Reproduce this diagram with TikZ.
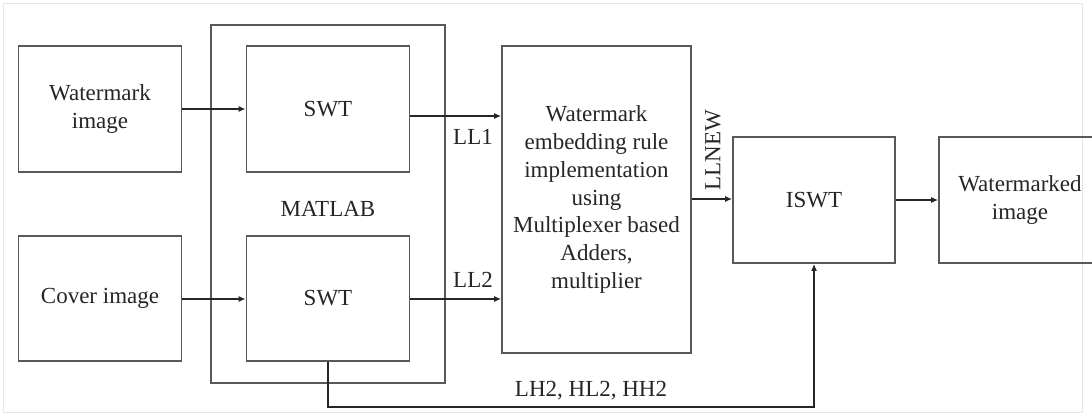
\documentclass[tikz,border=0pt]{standalone}
\usepackage{fontspec}
\setmainfont{Liberation Serif}
\usetikzlibrary{arrows.meta}
\begin{document}
\begin{tikzpicture}[x=1pt,y=-1pt,
  box/.style={draw=black!65, line width=1.8pt, rectangle, inner sep=0pt, align=center,
     text=black!85, font=\fontsize{23}{27.7}\selectfont},
  lbl/.style={text=black!85, inner sep=0pt, font=\fontsize{23}{27.7}\selectfont},
  arr/.style={draw=black!85, line width=1.3pt, -{Latex[length=7pt,width=6pt]}}]
\clip (0,0) rectangle (1092,416);
\fill[white] (0,0) rectangle (1092,416);
\draw[black!10, line width=0.8pt] (3,3) rectangle (1082,412);
% nodes
\node[box, minimum width=163pt, minimum height=126pt] (wm) at (100,109) {Watermark\\image};
\node[box, minimum width=163pt, minimum height=125pt] (cov) at (100,298.5) {Cover image};
\node[box, minimum width=234pt, minimum height=358pt] (mat) at (328,204) {};
\node[lbl] (matl) at (328,209) {MATLAB};
\node[box, minimum width=163pt, minimum height=126pt] (swt1) at (328,109) {SWT};
\node[box, minimum width=163pt, minimum height=125pt] (swt2) at (328,298.5) {SWT};
\node[box, minimum width=189pt, minimum height=307pt] (emb) at (596.5,199.5)
  {Watermark\\embedding rule\\implementation\\using\\Multiplexer based\\Adders,\\multiplier};
\node[box, minimum width=162pt, minimum height=126pt] (iswt) at (814,200) {ISWT};
\node[box, minimum width=175pt, minimum height=126pt] (wmd) at (1026.5,200) {};
\node[lbl, align=center] (wmdt) at (1020,200) {Watermarked\\image};
% connectors
\draw[arr] (wm.east |- 0,109) -- (swt1.west |- 0,109);
\draw[arr] (cov.east |- 0,299) -- (swt2.west |- 0,299);
\draw[arr] (swt1.east |- 0,116) -- (emb.west |- 0,116);
\node[lbl] (ll1) at (473,137) {LL1};
\draw[arr] (swt2.east |- 0,299) -- (emb.west |- 0,299);
\node[lbl] (ll2) at (473,280) {LL2};
\draw[arr] (emb.east |- 0,199) -- (iswt.west |- 0,199);
\node[lbl, rotate=90] (llnew) at (713,150) {LLNEW};
\draw[arr] (iswt.east |- 0,200) -- (wmd.west |- 0,200);
\coordinate (r1) at (328,407);
\draw[arr] (swt2.south) -- (r1) -| (iswt.south);
\node[lbl] (lh) at (591,391) {LH2, HL2, HH2};
\end{tikzpicture}
\end{document}
